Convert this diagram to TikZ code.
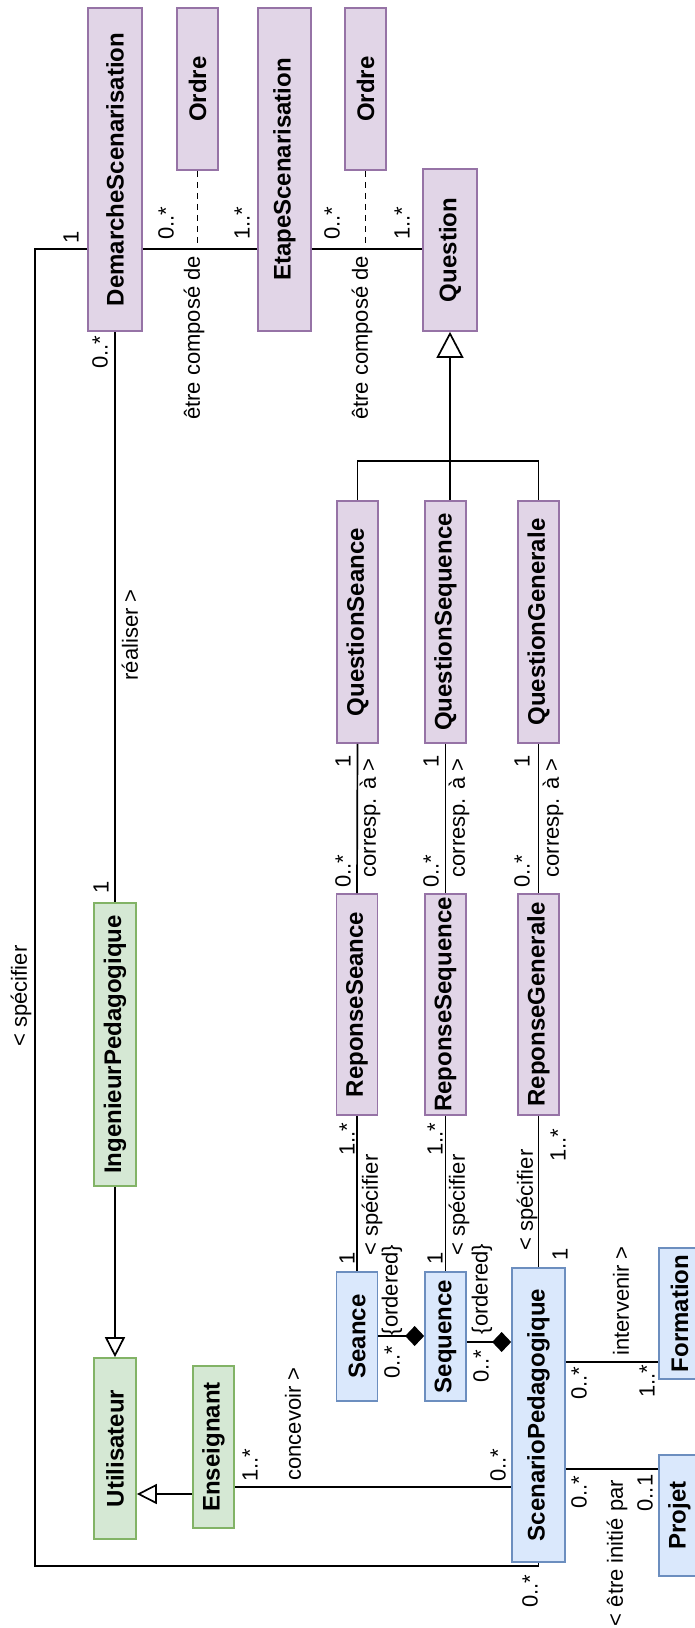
\documentclass[tikz,border=0pt]{standalone}
\usepackage{fontspec}
\setmainfont{Liberation Sans}
\usetikzlibrary{arrows.meta}

\definecolor{violetfill}{HTML}{E1D5E7}
\definecolor{violetline}{HTML}{9673A6}
\definecolor{vertfill}{HTML}{D5E8D4}
\definecolor{vertline}{HTML}{82B366}
\definecolor{bleufill}{HTML}{DAE8FC}
\definecolor{bleuline}{HTML}{6C8EBF}

\begin{document}
\begin{tikzpicture}[x=1pt, y=-1pt, line width=1.7pt,
    classe/.style={draw, rotate=90, inner sep=0pt,
      font=\bfseries\fontsize{24}{28}\selectfont},
    violet/.style={classe, fill=violetfill, draw=violetline},
    vert/.style={classe, fill=vertfill, draw=vertline},
    bleu/.style={classe, fill=bleufill, draw=bleuline},
    lab/.style={rotate=90, inner sep=0pt, font=\fontsize{22}{26}\selectfont},
    gen/.style={-{Triangle[open, length=20pt, width=20pt]}},
    genq/.style={-{Triangle[open, length=26pt, width=27pt]}},
    comp/.style={-{Diamond[length=19pt, width=20pt]}},
    ordre/.style={dash pattern=on 6pt off 5pt}]
    \useasboundingbox (0,0) rectangle (695,1628);

    % classes
    \node[violet, minimum width=323pt, minimum height=54pt] (dem) at (115,169.5) {DemarcheScenarisation};
    \node[violet, minimum width=162pt, minimum height=41pt] (ordre1) at (197.5,89) {Ordre};
    \node[violet, minimum width=323pt, minimum height=53pt] (etape) at (284.5,169.5) {EtapeScenarisation};
    \node[violet, minimum width=162pt, minimum height=41pt] (ordre2) at (365.5,89) {Ordre};
    \node[violet, minimum width=162pt, minimum height=54pt] (quest) at (450,250) {Question};
    \node[violet, minimum width=242pt, minimum height=41pt] (qseance) at (357.5,622) {QuestionSeance};
    \node[violet, minimum width=242pt, minimum height=41pt] (qseq) at (445.5,622) {QuestionSequence};
    \node[violet, minimum width=242pt, minimum height=41pt] (qgen) at (538.5,622) {QuestionGenerale};
    \node[violet, minimum width=221pt, minimum height=41pt] (rseance) at (357,1004.5) {ReponseSeance};
    \node[violet, minimum width=221pt, minimum height=41pt] (rseq) at (445.5,1004.5) {ReponseSequence};
    \node[violet, minimum width=221pt, minimum height=41pt] (rgen) at (538.5,1004.5) {ReponseGenerale};
    \node[bleu, minimum width=129pt, minimum height=41pt] (seance) at (357,1336.5) {Seance};
    \node[bleu, minimum width=129pt, minimum height=41pt] (sequence) at (445.5,1336.5) {Sequence};
    \node[bleu, minimum width=294pt, minimum height=53pt] (scen) at (538.5,1415) {ScenarioPedagogique};
    \node[bleu, minimum width=131pt, minimum height=41pt] (form) at (679.5,1313.5) {Formation};
    \node[bleu, minimum width=121pt, minimum height=41pt] (projet) at (679.5,1515.5) {Projet};
    \node[vert, minimum width=283pt, minimum height=42pt] (ing) at (115,1044.5) {IngenieurPedagogique};
    \node[vert, minimum width=181pt, minimum height=42pt] (util) at (115,1448.5) {Utilisateur};
    \node[vert, minimum width=162pt, minimum height=41pt] (ens) at (213.5,1447) {Enseignant};

    % niveaux des associations
    \coordinate (niv1) at (0,249);
    \coordinate (niv2) at (0,461);
    \coordinate (niv3) at (0,1336);
    \coordinate (niv4) at (0,1342);
    \coordinate (niv5) at (0,1362);
    \coordinate (niv6) at (0,1469);
    \coordinate (niv7) at (0,1487);
    \coordinate (niv8) at (0,1494);
    \coordinate (coin) at (35,1566);

    % associations
    \draw (dem.south |- niv1) -- (etape.north |- niv1);
    \draw (etape.south |- niv1) -- (quest.north |- niv1);
    \draw[ordre] (ordre1.west) -- (ordre1.west |- niv1);
    \draw[ordre] (ordre2.west) -- (ordre2.west |- niv1);
    \draw (dem.north |- niv1) -| (coin) -| (scen.west);
    \draw (dem.west) -- (ing.east);
    \draw[gen] (ing.west) -- (util.east);
    \draw[gen] (ens.north |- niv8) -- (util.south |- niv8);
    \draw (ens.south |- niv7) -- (scen.north |- niv7);
    \draw (qseance.east) -- (qseance.east |- niv2) -- (qgen.east |- niv2) -- (qgen.east);
    \draw[genq] (quest.west |- qseq.east) -- (quest.west);
    \draw (qseance.west) -- (rseance.east);
    \draw (qseq.west) -- (rseq.east);
    \draw (qgen.west) -- (rgen.east);
    \draw (rseance.west) -- (seance.east);
    \draw (rseq.west) -- (sequence.east);
    \draw (rgen.west) -- (scen.east);
    \draw[comp] (seance.south |- niv3) -- (sequence.north |- niv3);
    \draw[comp] (sequence.south |- niv4) -- (scen.north |- niv4);
    \draw (scen.south |- niv5) -- (form.north |- niv5);
    \draw (scen.south |- niv6) -- (projet.north |- niv6);

    % etiquettes
    \node[lab] (m-dem1) at (71,237) {1};
    \node[lab] (m-dem2) at (166,223) {0..*};
    \node[lab] (m-eta1) at (242,223) {1..*};
    \node[lab] (t-comp1) at (194,338) {être composé de};
    \node[lab] (m-eta2) at (332,223) {0..*};
    \node[lab] (m-que1) at (402,223) {1..*};
    \node[lab] (t-comp2) at (362,338) {être composé de};
    \node[lab] (m-dem3) at (100,352) {0..*};
    \node[lab] (t-real) at (130,635) {réaliser >};
    \node[lab] (m-ing1) at (101,887) {1};
    \node[lab] (t-spec0) at (21,996) {< spécifier};
    \node[lab] (m-scen0) at (530,1591) {0..*};
    \node[lab] (m-qse1) at (343,761) {1};
    \node[lab] (t-cor1) at (370,818) {corresp. à >};
    \node[lab] (m-rse1) at (343,871) {0..*};
    \node[lab] (m-qsq1) at (431,761) {1};
    \node[lab] (t-cor2) at (459,818) {corresp. à >};
    \node[lab] (m-rsq1) at (431,871) {0..*};
    \node[lab] (m-qge1) at (522,761) {1};
    \node[lab] (t-cor3) at (553,818) {corresp. à >};
    \node[lab] (m-rge1) at (522,871) {0..*};
    \node[lab] (m-rse2) at (347,1139) {1..*};
    \node[lab] (t-spec1) at (372,1205) {< spécifier};
    \node[lab] (m-sea1) at (347,1258) {1};
    \node[lab] (m-rsq2) at (435,1139) {1..*};
    \node[lab] (t-spec2) at (459,1205) {< spécifier};
    \node[lab] (m-seq1) at (435,1258) {1};
    \node[lab] (t-spec3) at (527,1200) {< spécifier};
    \node[lab] (m-rge2) at (558,1145) {1..*};
    \node[lab] (m-scen1) at (560,1254) {1};
    \node[lab] (t-ord1) at (392,1290) {\{ordered\}};
    \node[lab] (m-sea2) at (392,1362) {0..*};
    \node[lab] (t-ord2) at (482,1289) {\{ordered\}};
    \node[lab] (m-seq2) at (481,1366) {0..*};
    \node[lab] (t-inter) at (621,1301) {intervenir >};
    \node[lab] (m-scen2) at (579,1383) {0..*};
    \node[lab] (m-form1) at (647,1381) {1..*};
    \node[lab] (m-scen3) at (579,1492) {0..*};
    \node[lab] (m-proj1) at (645,1493) {0..1};
    \node[lab] (t-init) at (617,1553) {< être initié par};
    \node[lab] (m-ens1) at (250,1465) {1..*};
    \node[lab] (t-conc) at (293,1424) {concevoir >};
    \node[lab] (m-scen4) at (498,1465) {0..*};
\end{tikzpicture}
\end{document}
